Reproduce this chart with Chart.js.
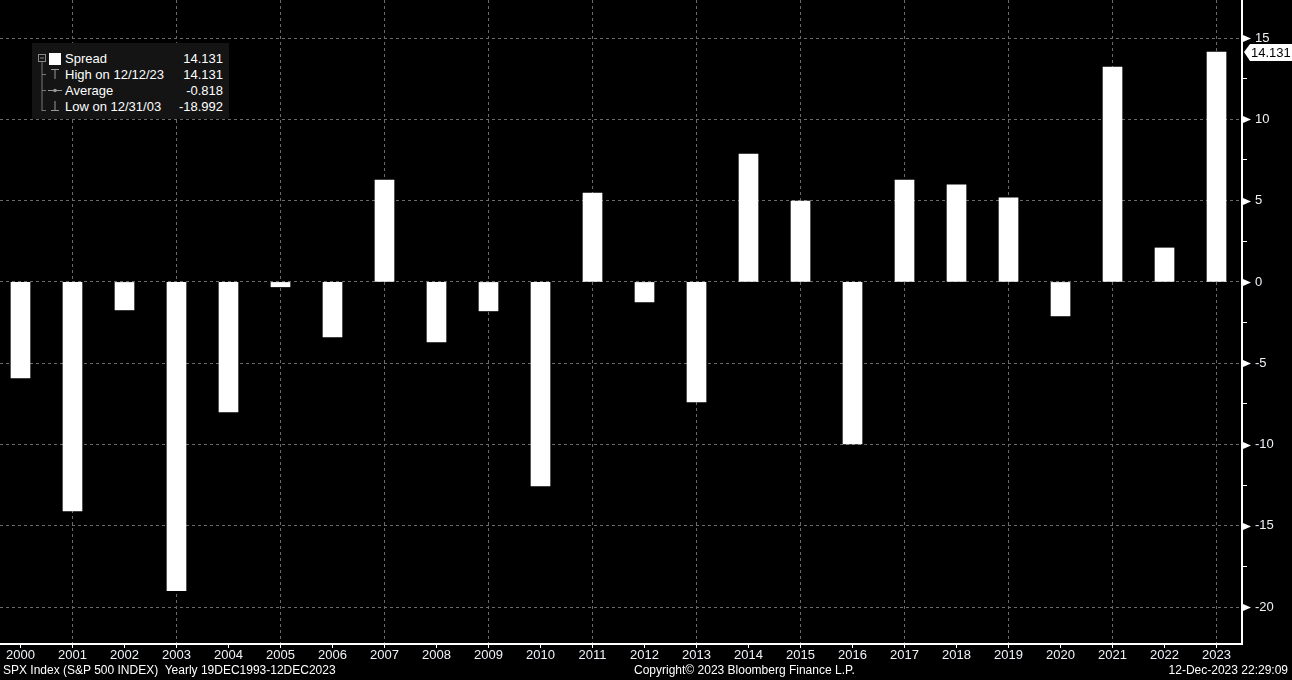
<!DOCTYPE html>
<html>
<head>
<meta charset="utf-8">
<script src="https://cdn.jsdelivr.net/npm/chart.js@4.4.1/dist/chart.umd.min.js"></script>
<style>
  html, body { margin: 0; padding: 0; background: #000; }
  #wrap { position: relative; width: 1292px; height: 680px; background: #000; overflow: hidden; }
  #legend { position: absolute; left: 32px; top: 43px; width: 197px; height: 76px; background: #141414;
    font: 13px "Liberation Sans", Arial, sans-serif; color: #fff; }
  #legend .row { position: absolute; left: 0; width: 191px; height: 16px; line-height: 16px; }
  #legend .lbl { position: absolute; left: 33px; }
  #legend .val { position: absolute; right: 0; }
  #legend svg { position: absolute; left: 0; top: 0; }
  .foot { position: absolute; top: 663px; font: 12px "Liberation Sans", Arial, sans-serif; color: #fff; white-space: pre; }
</style>
</head>
<body>
<div id="wrap">
  <canvas id="chart" width="1292" height="680"></canvas>
  <div id="legend">
    <svg width="40" height="76">
      <rect x="6.5" y="11.5" width="7" height="7" fill="none" stroke="#888"/>
      <line x1="8" y1="15" x2="12" y2="15" stroke="#888"/>
      <line x1="10" y1="19" x2="10" y2="68" stroke="#777"/>
      <line x1="10" y1="31.5" x2="14" y2="31.5" stroke="#777"/>
      <line x1="10" y1="47.5" x2="14" y2="47.5" stroke="#777"/>
      <line x1="10" y1="67.5" x2="14" y2="67.5" stroke="#777"/>
      <rect x="17" y="10" width="12" height="12" fill="#fff"/>
      <line x1="19" y1="26.5" x2="27" y2="26.5" stroke="#999"/>
      <line x1="23" y1="27" x2="23" y2="36" stroke="#999"/>
      <line x1="16" y1="47.5" x2="30" y2="47.5" stroke="#999"/>
      <circle cx="23" cy="47.5" r="1.8" fill="#999"/>
      <line x1="23" y1="58" x2="23" y2="67" stroke="#999"/>
      <line x1="19" y1="67.5" x2="27" y2="67.5" stroke="#999"/>
    </svg>
    <div class="row" style="top:8px"><span class="lbl">Spread</span><span class="val" id="vLast"></span></div>
    <div class="row" style="top:24px"><span class="lbl">High on 12/12/23</span><span class="val" id="vHigh"></span></div>
    <div class="row" style="top:40px"><span class="lbl">Average</span><span class="val" id="vAvg"></span></div>
    <div class="row" style="top:56px"><span class="lbl">Low on 12/31/03</span><span class="val" id="vLow"></span></div>
  </div>
  <div class="foot" style="left:3px">SPX Index (S&amp;P 500 INDEX)  Yearly 19DEC1993-12DEC2023</div>
  <div class="foot" style="left:634px">Copyright© 2023 Bloomberg Finance L.P.</div>
  <div class="foot" style="right:4px">12-Dec-2023 22:29:09</div>
</div>
<script>
// years on the x axis
const years = [2000, 2001, 2002, 2003, 2004, 2005, 2006, 2007, 2008, 2009, 2010, 2011,
               2012, 2013, 2014, 2015, 2016, 2017, 2018, 2019, 2020, 2021, 2022, 2023];
// yearly spread values
const spread = [-5.91, -14.08, -1.72, -18.992, -8.0, -0.3, -3.38, 6.27, -3.69, -1.78, -12.55, 5.47,
                -1.23, -7.38, 7.87, 4.98, -9.96, 6.27, 5.97, 5.17, -2.09, 13.22, 2.09, 14.131];
// right axis labels
const yTicks = [15, 10, 5, 0, -5, -10, -15, -20];

const last = spread[spread.length - 1];
const high = Math.max(...spread);
const low = Math.min(...spread);
const avg = spread.reduce((a, b) => a + b, 0) / spread.length;
document.getElementById('vLast').textContent = last.toFixed(3);
document.getElementById('vHigh').textContent = high.toFixed(3);
document.getElementById('vAvg').textContent = avg.toFixed(3);
document.getElementById('vLow').textContent = low.toFixed(3);

const FONT = '"Liberation Sans", Arial, sans-serif';

// arrows on the right axis + last value tag
const axisMarks = {
  id: 'axisMarks',
  afterDraw(chart) {
    const ctx = chart.ctx;
    const y = chart.scales.y;
    const x0 = chart.chartArea.right;
    ctx.save();
    ctx.fillStyle = '#fff';
    yTicks.forEach(v => {
      const py = Math.round(y.getPixelForValue(v)) + 0.5;
      ctx.beginPath();
      ctx.moveTo(x0 + 1, py - 3.5);
      ctx.lineTo(x0 + 9, py);
      ctx.lineTo(x0 + 1, py + 3.5);
      ctx.closePath();
      ctx.fill();
    });
    // last value tag
    const py = Math.round(y.getPixelForValue(last));
    ctx.fillStyle = '#fff';
    ctx.beginPath();
    ctx.moveTo(x0 + 2, py);
    ctx.lineTo(x0 + 8, py - 8);
    ctx.lineTo(1292, py - 8);
    ctx.lineTo(1292, py + 9);
    ctx.lineTo(x0 + 8, py + 9);
    ctx.closePath();
    ctx.fill();
    ctx.fillStyle = '#000';
    ctx.font = '13px ' + FONT;
    ctx.textBaseline = 'middle';
    ctx.textAlign = 'left';
    ctx.fillText(last.toFixed(3), x0 + 9, py + 1);
    ctx.restore();
  }
};

new Chart(document.getElementById('chart'), {
  type: 'bar',
  data: {
    labels: years,
    datasets: [{
      label: 'Spread',
      data: years.map((yr, i) => ({ x: yr, y: spread[i] })),
      backgroundColor: '#fff',
      borderWidth: 0,
      barThickness: 19
    }]
  },
  options: {
    responsive: false,
    animation: false,
    plugins: { legend: { display: false }, tooltip: { enabled: false } },
    layout: { padding: { left: 0, right: 0, top: 0, bottom: 17 } },
    scales: {
      x: {
        type: 'linear',
        min: 1999.606,
        max: 2023.49,
        offset: false,
        grid: {
          offset: false,
          color: c => (c.tick && c.tick.value % 2 === 1) ? '#6a6a6a' : 'rgba(0,0,0,0)',
          tickColor: '#fff',
          tickLength: 4,
          drawTicks: true
        },
        border: { color: '#fff', width: 2, dash: [3, 3], display: true },
        ticks: {
          stepSize: 1,
          includeBounds: false,
          autoSkip: false,
          maxRotation: 0,
          color: '#eef2f7',
          font: { family: FONT, size: 13 },
          padding: 0,
          callback: v => String(v)
        },
        afterFit: s => { s.height = 19; s.paddingLeft = 0; s.paddingRight = 0; }
      },
      y: {
        position: 'right',
        min: -22.27,
        max: 17.34,
        grid: {
          color: c => (c.tick && c.tick.value % 5 === 0) ? '#6a6a6a' : 'rgba(0,0,0,0)',
          tickColor: c => (c.tick && c.tick.value % 5 === 0) ? 'rgba(0,0,0,0)' : '#fff',
          tickLength: 5,
          drawTicks: true
        },
        border: { color: '#fff', width: 2, dash: [3, 3] },
        ticks: {
          stepSize: 2.5,
          includeBounds: false,
          color: '#eef2f7',
          font: { family: FONT, size: 13 },
          padding: 8,
          callback: v => (v % 5 === 0 ? String(v) : '')
        },
        afterFit: s => { s.width = 50; s.paddingTop = 0; s.paddingBottom = 0; }
      }
    }
  },
  plugins: [axisMarks]
});
</script>
</body>
</html>
